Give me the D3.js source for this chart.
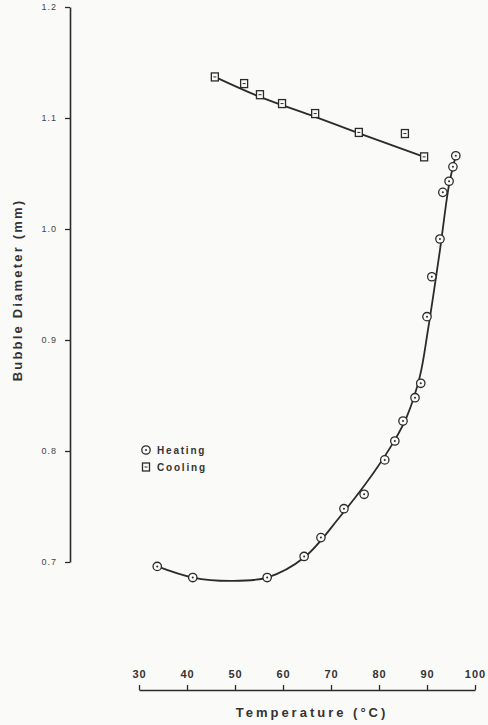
<!DOCTYPE html>
<html>
<head>
<meta charset="utf-8">
<script src="https://cdn.jsdelivr.net/npm/d3@7"></script>
<style>
  body { margin: 0; background: #fafaf8; }
  svg { display: block; font-family: "Liberation Sans", "DejaVu Sans", sans-serif; }
  .tick-y { font-size: 9px; fill: #444; letter-spacing: 1px; }
  .tick-x { font-size: 11px; font-weight: bold; fill: #333; letter-spacing: 1px; }
  .axis-title { font-size: 13px; font-weight: bold; fill: #333; letter-spacing: 3px; }
  .legend-text { font-size: 10px; font-weight: bold; fill: #333; letter-spacing: 1.8px; }
</style>
</head>
<body>
<div id="chart"></div>
<script>
// measured points, temperature (°C) vs bubble diameter (mm)
const heatingTemp = [33.8, 41.2, 56.7, 64.4, 67.9, 72.7, 76.9, 81.2, 83.3, 85.0, 87.5, 88.7, 90.0, 91.0, 92.7, 93.3, 94.6, 95.4, 96.0];
const heatingDiam = [0.696, 0.686, 0.686, 0.705, 0.722, 0.748, 0.761, 0.792, 0.809, 0.827, 0.848, 0.861, 0.921, 0.957, 0.991, 1.033, 1.043, 1.056, 1.066];

const coolingTemp = [45.8, 51.9, 55.2, 59.8, 66.7, 75.8, 85.4, 89.4];
const coolingDiam = [1.137, 1.131, 1.121, 1.113, 1.104, 1.087, 1.086, 1.065];

// hand-drawn fitted curves
const heatingFitTemp = [33.8, 41.2, 49.0, 56.7, 64.4, 71.9, 78.8, 83.3, 85.8, 88.5, 90.2, 92.7, 94.6, 96.0];
const heatingFitDiam = [0.696, 0.686, 0.683, 0.686, 0.704, 0.741, 0.780, 0.810, 0.831, 0.867, 0.909, 0.981, 1.040, 1.066];
const coolingFitTemp = [45.8, 55.2, 66.7, 76.0, 89.4];
const coolingFitDiam = [1.137, 1.119, 1.101, 1.086, 1.065];

const xTicks = [30, 40, 50, 60, 70, 80, 90, 100];
const yTicks = [0.7, 0.8, 0.9, 1.0, 1.1, 1.2];
const legendLabels = ['Heating', 'Cooling'];

const W = 488, H = 725;
const ink = '#2b2b2b';

const svg = d3.select('#chart').append('svg')
    .attr('width', W)
    .attr('height', H);

const x = d3.scaleLinear().domain([30, 100]).range([139, 475]);
const y = d3.scaleLinear().domain([0.7, 1.2]).range([562, 7]);

// y axis, ticks pointing left
const yAxis = svg.append('g')
    .attr('transform', 'translate(70,0)')
    .call(d3.axisLeft(y).tickValues(yTicks).tickSize(5).tickSizeOuter(0).tickPadding(8).tickFormat(d3.format('.1f')));
yAxis.select('.domain').attr('stroke', ink).attr('stroke-width', 1.6);
yAxis.selectAll('.tick line').attr('stroke', ink).attr('stroke-width', 1.3);
yAxis.selectAll('.tick text').attr('class', 'tick-y').attr('font-family', null).attr('font-size', null).attr('fill', null);

// x axis on its own baseline below the plot, ticks pointing up
const xAxis = svg.append('g')
    .attr('transform', 'translate(0,690)')
    .call(d3.axisTop(x).tickValues(xTicks).tickSize(5).tickSizeOuter(0).tickPadding(7));
xAxis.select('.domain').attr('stroke', ink).attr('stroke-width', 1.6);
xAxis.selectAll('.tick line').attr('stroke', ink).attr('stroke-width', 1.3);
xAxis.selectAll('.tick text').attr('class', 'tick-x').attr('font-family', null).attr('font-size', null).attr('fill', null);

svg.append('text')
    .attr('class', 'axis-title')
    .attr('text-anchor', 'middle')
    .attr('x', 312)
    .attr('y', 717)
    .text('Temperature (°C)');

svg.append('text')
    .attr('class', 'axis-title')
    .attr('text-anchor', 'middle')
    .style('letter-spacing', '2.2px')
    .attr('transform', 'translate(22,290) rotate(-90)')
    .text('Bubble Diameter (mm)');

// fitted curves
const line = d3.line()
    .x(d => x(d[0]))
    .y(d => y(d[1]))
    .curve(d3.curveCatmullRom.alpha(0.5));

svg.append('path')
    .datum(d3.zip(heatingFitTemp, heatingFitDiam))
    .attr('d', line)
    .attr('fill', 'none')
    .attr('stroke', ink)
    .attr('stroke-width', 1.8);

svg.append('path')
    .datum(d3.zip(coolingFitTemp, coolingFitDiam))
    .attr('d', line)
    .attr('fill', 'none')
    .attr('stroke', ink)
    .attr('stroke-width', 1.8);

// markers
function circleMark(g, cx, cy) {
    g.append('circle').attr('cx', cx).attr('cy', cy).attr('r', 4.2)
        .attr('fill', '#fafaf8').attr('stroke', ink).attr('stroke-width', 1.3);
    g.append('circle').attr('cx', cx).attr('cy', cy).attr('r', 1)
        .attr('fill', ink);
}
function squareMark(g, cx, cy) {
    g.append('rect').attr('x', cx - 3.5).attr('y', cy - 4).attr('width', 7).attr('height', 8)
        .attr('fill', '#fafaf8').attr('stroke', ink).attr('stroke-width', 1.3);
    g.append('line').attr('x1', cx - 1.5).attr('x2', cx + 1.5).attr('y1', cy).attr('y2', cy)
        .attr('stroke', ink).attr('stroke-width', 1);
}

const heatG = svg.append('g');
d3.zip(heatingTemp, heatingDiam).forEach(d => circleMark(heatG, x(d[0]), y(d[1])));

const coolG = svg.append('g');
d3.zip(coolingTemp, coolingDiam).forEach(d => squareMark(coolG, x(d[0]), y(d[1])));

// legend
const legend = svg.append('g').attr('transform', 'translate(146,450)');
legendLabels.forEach((label, i) => {
    const g = legend.append('g').attr('transform', `translate(0,${i * 17})`);
    if (i === 0) circleMark(g, 0, 0); else squareMark(g, 0, 0);
    g.append('text')
        .attr('class', 'legend-text')
        .attr('x', 11)
        .attr('y', 4)
        .text(label);
});
</script>
</body>
</html>
